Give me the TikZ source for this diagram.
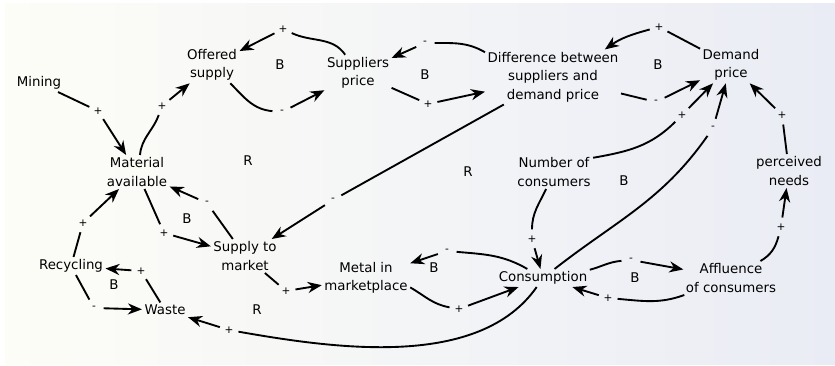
\documentclass[tikz,border=0pt]{standalone}
\usepackage{fontspec}
\setmainfont{DejaVu Sans}
\usetikzlibrary{arrows.meta}
\definecolor{paperleft}{RGB}{253,253,247}
\definecolor{paperright}{RGB}{234,236,245}
\begin{document}
\begin{tikzpicture}[x=0.3mm, y=0.3mm, font=\fontsize{11.4}{15.8}\selectfont]
    \tikzset{var node/.style={align=center, inner sep=2pt},
             sign node/.style={circle, inner sep=0pt, minimum size=16pt, font=\fontsize{9}{9}\selectfont},
             loop node/.style={inner sep=0pt},
             link/.style={line width=1.6pt},
             arrow link/.style={link, -{Stealth[length=12pt, width=9.5pt]}}}

    % Background (white rim, shaded paper)
    \useasboundingbox (0,0) rectangle (835,-366);
    \fill[white] (0,0) rectangle (835,-366);
    \shade[left color=paperleft, right color=paperright] (5,-4) rectangle (835,-364);

    % Variables
    \node[var node] (mining) at (39,-83) {Mining};
    \node[var node] (offered) at (212,-65) {Offered\\supply};
    \node[var node] (supprice) at (358,-73) {Suppliers\\price};
    \node[var node] (diff) at (553,-77) {Difference between\\suppliers and\\demand price};
    \node[var node] (demand) at (731,-65) {Demand\\price};
    \node[var node] (material) at (137,-172) {Material\\available};
    \node[var node] (numcons) at (554,-172) {Number of\\consumers};
    \node[var node] (needs) at (789,-171) {perceived\\needs};
    \node[var node] (supply) at (245,-256) {Supply to\\market};
    \node[var node] (metal) at (366,-278) {Metal in\\marketplace};
    \node[var node] (consumption) at (543,-278) {Consumption};
    \node[var node] (affluence) at (731,-278) {Affluence\\of consumers};
    \node[var node] (recycling) at (71,-266) {Recycling};
    \node[var node] (waste) at (165,-310) {Waste};

    % Loop markers
    \node[loop node] (loop1) at (280,-65) {B};
    \node[loop node] (loop2) at (425,-75) {B};
    \node[loop node] (loop3) at (658,-65) {B};
    \node[loop node] (loop4) at (248,-161) {R};
    \node[loop node] (loop5) at (468,-172) {R};
    \node[loop node] (loop6) at (624,-181) {B};
    \node[loop node] (loop7) at (187,-219) {B};
    \node[loop node] (loop8) at (114,-285) {B};
    \node[loop node] (loop9) at (257,-310) {R};
    \node[loop node] (loop10) at (434,-268) {B};
    \node[loop node] (loop11) at (635,-278) {B};

    % Link polarities
    \node[sign node] (sg1) at (98,-111) {+};
    \node[sign node] (sg2) at (162,-106) {+};
    \node[sign node] (sg3) at (283,-29) {+};
    \node[sign node] (sg4) at (282,-112) {-};
    \node[sign node] (sg5) at (425,-43) {-};
    \node[sign node] (sg6) at (428,-104) {+};
    \node[sign node] (sg7) at (659,-27) {+};
    \node[sign node] (sg8) at (656,-102) {-};
    \node[sign node] (sg9) at (682,-115) {+};
    \node[sign node] (sg10) at (713,-128) {-};
    \node[sign node] (sg11) at (782,-115) {+};
    \node[sign node] (sg12) at (781,-227) {+};
    \node[sign node] (sg13) at (532,-239) {+};
    \node[sign node] (sg14) at (447,-251) {-};
    \node[sign node] (sg15) at (459,-309) {+};
    \node[sign node] (sg16) at (631,-260) {-};
    \node[sign node] (sg17) at (608,-298) {+};
    \node[sign node] (sg18) at (229,-330) {+};
    \node[sign node] (sg19) at (333,-200) {-};
    \node[sign node] (sg20) at (207,-203) {-};
    \node[sign node] (sg21) at (164,-233) {+};
    \node[sign node] (sg22) at (286,-291) {+};
    \node[sign node] (sg23) at (141,-271) {+};
    \node[sign node] (sg24) at (94,-308) {-};
    \node[sign node] (sg25) at (83,-223) {+};

    % Supply side
    \draw[link] (mining) -- (sg1);
    \draw[arrow link] (sg1) -- (material);
    \draw[link] (material.80) to[out=85, in=-110] (sg2);
    \draw[arrow link] (sg2) -- (offered);
    \draw[link] (supprice) to[out=125, in=-25] (sg3);
    \draw[arrow link] (sg3) -- (offered);
    \draw[link] (offered) to[out=-45, in=175] (sg4);
    \draw[arrow link] (sg4) -- (supprice);
    \draw[link] (diff.160) to[out=150, in=0] (sg5);
    \draw[arrow link] (sg5) -- (supprice);
    \draw[link] (supprice) -- (sg6);
    \draw[arrow link] (sg6) -- (diff);

    % Demand side
    \draw[link] (demand) -- (sg7);
    \draw[arrow link] (sg7) to[out=195, in=35] (diff.28);
    \draw[link] (diff) -- (sg8);
    \draw[arrow link] (sg8) -- (demand);
    \draw[link] (numcons.20) to[out=10, in=-135] (sg9);
    \draw[arrow link] (sg9) -- (demand);
    \draw[link] (consumption) to[out=38, in=-125] (sg10);
    \draw[arrow link] (sg10) -- (demand);
    \draw[link] (needs) -- (sg11);
    \draw[arrow link] (sg11) -- (demand);
    \draw[link] (affluence) to[out=30, in=-105] (sg12);
    \draw[arrow link] (sg12) -- (needs);
    \draw[link] (numcons) to[out=-115, in=90] (sg13);
    \draw[arrow link] (sg13) -- (consumption);

    % Market and consumption
    \draw[link] (consumption) to[out=150, in=-5] (sg14);
    \draw[arrow link] (sg14) -- (metal);
    \draw[link] (metal.-12) to[out=-30, in=170] (sg15);
    \draw[arrow link] (sg15) -- (consumption);
    \draw[link] (consumption.10) to[out=15, in=185] (sg16);
    \draw[arrow link] (sg16) -- (affluence);
    \draw[link] (affluence) to[out=200, in=-5] (sg17);
    \draw[arrow link] (sg17) -- (consumption);
    \draw[link] (consumption) to[out=-125, in=-10, looseness=0.85] (sg18);
    \draw[arrow link] (sg18) -- (waste);
    \draw[link] (diff) -- (sg19);
    \draw[arrow link] (sg19) -- (supply);
    \draw[link] (supply) -- (sg20);
    \draw[arrow link] (sg20) -- (material);
    \draw[link] (material) -- (sg21);
    \draw[arrow link] (sg21) -- (supply);
    \draw[link] (supply) -- (sg22);
    \draw[arrow link] (sg22) -- (metal);

    % Recycling
    \draw[link] (waste) -- (sg23);
    \draw[arrow link] (sg23) -- (recycling);
    \draw[link] (recycling) -- (sg24);
    \draw[arrow link] (sg24) -- (waste);
    \draw[link] (recycling) -- (sg25);
    \draw[arrow link] (sg25) -- (material);
\end{tikzpicture}
\end{document}
